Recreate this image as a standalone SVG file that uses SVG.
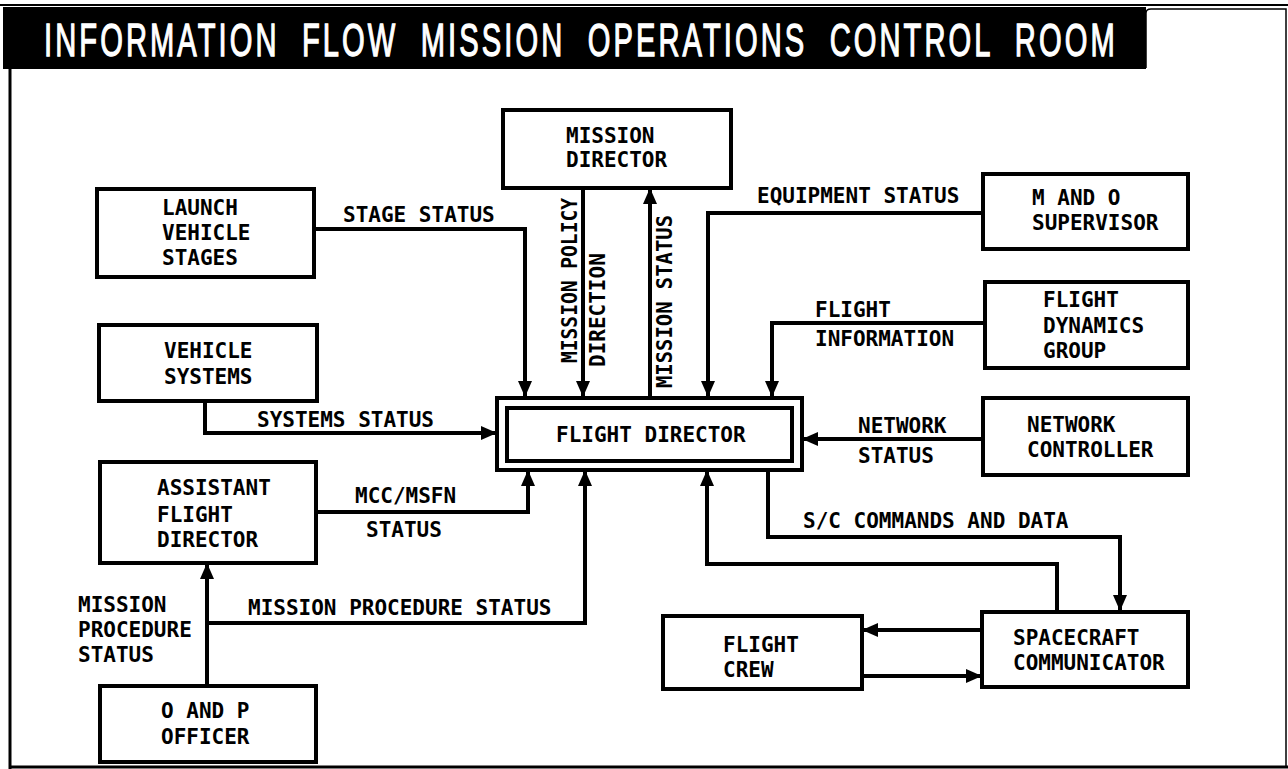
<svg xmlns="http://www.w3.org/2000/svg" width="1288" height="769" viewBox="0 0 1288 769">
<style>
.box{fill:#fff;stroke:#000;stroke-width:4}
.t{font-family:"DejaVu Sans Mono","Liberation Mono",monospace;font-weight:bold;font-size:21px;fill:#000}
.c{fill:none;stroke:#000;stroke-width:4;stroke-linejoin:miter}
.frame{fill:none;stroke:#000}
</style>
<defs>
<marker id="ah" viewBox="0 0 16 14" refX="16" refY="7" markerWidth="16" markerHeight="14" markerUnits="userSpaceOnUse" orient="auto">
<path d="M0,0 L16,7 L0,14 Z" fill="#000"/>
</marker>
</defs>
<rect x="0" y="0" width="1288" height="769" fill="#fff"/>
<g id="frame">
<line class="frame" x1="0" y1="5" x2="1288" y2="5" stroke-width="2"/>
<line class="frame" x1="10" y1="68" x2="10" y2="769" stroke-width="3"/>
<path class="frame" d="M1146,68 V13 Q1146,9 1151,9 H1286 V767" stroke-width="1.5" stroke="#444"/>
<line class="frame" x1="10" y1="767" x2="1288" y2="767" stroke-width="3"/>
</g>
<g id="title">
<rect x="3" y="7" width="1143" height="62" fill="#000"/>
<text transform="translate(44,56) scale(0.62,1)" x="0" y="0" font-family="Liberation Sans, Arial, sans-serif" font-size="47" fill="#fff" stroke="#fff" stroke-width="1.3" word-spacing="18" textLength="1727" lengthAdjust="spacing">INFORMATION FLOW MISSION OPERATIONS CONTROL ROOM</text>
</g>
<g id="connectors">
<path class="c" d="M314,229 H525 V397" marker-end="url(#ah)"/>
<path class="c" d="M205,401 V433 H497" marker-end="url(#ah)"/>
<path class="c" d="M583,188 V397" marker-end="url(#ah)"/>
<path class="c" d="M650,398 V188" marker-end="url(#ah)"/>
<path class="c" d="M983,213 H708 V397" marker-end="url(#ah)"/>
<path class="c" d="M985,323 H772 V397" marker-end="url(#ah)"/>
<path class="c" d="M983,439 H802" marker-end="url(#ah)"/>
<path class="c" d="M316,512 H528 V470" marker-end="url(#ah)"/>
<path class="c" d="M207,623 H585 V470" marker-end="url(#ah)"/>
<path class="c" d="M207,686 V563" marker-end="url(#ah)"/>
<path class="c" d="M768,470 V537 H1120 V611" marker-end="url(#ah)"/>
<path class="c" d="M1057,612 V564 H707 V470" marker-end="url(#ah)"/>
<path class="c" d="M982,630 H862" marker-end="url(#ah)"/>
<path class="c" d="M862,676 H982" marker-end="url(#ah)"/>
<text class="t" x="343" y="222">STAGE STATUS</text>
<text class="t" x="257" y="427">SYSTEMS STATUS</text>
<text class="t" x="757" y="203">EQUIPMENT STATUS</text>
<text class="t" x="815" y="317">FLIGHT</text>
<text class="t" x="815" y="346">INFORMATION</text>
<text class="t" x="858" y="433">NETWORK</text>
<text class="t" x="858" y="463">STATUS</text>
<text class="t" x="355" y="503">MCC/MSFN</text>
<text class="t" x="366" y="537">STATUS</text>
<text class="t" x="248" y="615">MISSION PROCEDURE STATUS</text>
<text class="t" x="78" y="612">MISSION</text>
<text class="t" x="78" y="637">PROCEDURE</text>
<text class="t" x="78" y="662">STATUS</text>
<text class="t" x="803" y="528">S/C COMMANDS AND DATA</text>
<text class="t" transform="translate(577,363) rotate(-90)" textLength="165" lengthAdjust="spacingAndGlyphs">MISSION POLICY</text>
<text class="t" transform="translate(605,367) rotate(-90)">DIRECTION</text>
<text class="t" transform="translate(672,388) rotate(-90)" textLength="173" lengthAdjust="spacingAndGlyphs">MISSION STATUS</text>
</g>
<g id="mission-director">
<rect class="box" x="503" y="110" width="228" height="78"/>
<text class="t" x="566" y="143">MISSION</text>
<text class="t" x="566" y="167">DIRECTOR</text>
</g>
<g id="launch-vehicle-stages">
<rect class="box" x="97" y="189" width="217" height="88"/>
<text class="t" x="162" y="215">LAUNCH</text>
<text class="t" x="162" y="240">VEHICLE</text>
<text class="t" x="162" y="265">STAGES</text>
</g>
<g id="m-and-o-supervisor">
<rect class="box" x="983" y="174" width="205" height="75"/>
<text class="t" x="1032" y="205">M AND O</text>
<text class="t" x="1032" y="230">SUPERVISOR</text>
</g>
<g id="flight-dynamics-group">
<rect class="box" x="985" y="282" width="203" height="86"/>
<text class="t" x="1043" y="307">FLIGHT</text>
<text class="t" x="1043" y="333">DYNAMICS</text>
<text class="t" x="1043" y="358">GROUP</text>
</g>
<g id="vehicle-systems">
<rect class="box" x="99" y="325" width="218" height="76"/>
<text class="t" x="164" y="358">VEHICLE</text>
<text class="t" x="164" y="384">SYSTEMS</text>
</g>
<g id="flight-director">
<rect class="box" x="497" y="398" width="305" height="72"/>
<rect class="box" x="507" y="408" width="285" height="53"/>
<text class="t" x="556" y="442">FLIGHT DIRECTOR</text>
</g>
<g id="network-controller">
<rect class="box" x="983" y="398" width="205" height="77"/>
<text class="t" x="1027" y="432">NETWORK</text>
<text class="t" x="1027" y="457">CONTROLLER</text>
</g>
<g id="assistant-flight-director">
<rect class="box" x="100" y="462" width="216" height="101"/>
<text class="t" x="157" y="495">ASSISTANT</text>
<text class="t" x="157" y="522">FLIGHT</text>
<text class="t" x="157" y="547">DIRECTOR</text>
</g>
<g id="spacecraft-communicator">
<rect class="box" x="982" y="612" width="206" height="75"/>
<text class="t" x="1013" y="645">SPACECRAFT</text>
<text class="t" x="1013" y="670">COMMUNICATOR</text>
</g>
<g id="flight-crew">
<rect class="box" x="663" y="616" width="199" height="73"/>
<text class="t" x="723" y="652">FLIGHT</text>
<text class="t" x="723" y="677">CREW</text>
</g>
<g id="o-and-p-officer">
<rect class="box" x="100" y="686" width="216" height="76"/>
<text class="t" x="161" y="718">O AND P</text>
<text class="t" x="161" y="744">OFFICER</text>
</g>
</svg>
